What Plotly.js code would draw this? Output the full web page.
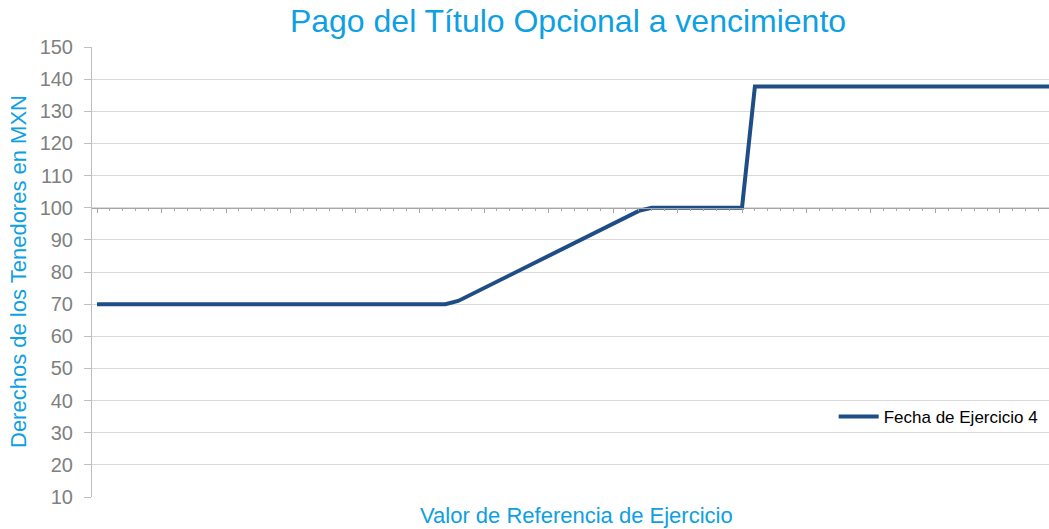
<!DOCTYPE html>
<html>
<head>
<meta charset="utf-8">
<script src="https://cdn.plot.ly/plotly-3.0.1.min.js"></script>
<style>html,body{margin:0;padding:0;background:#fff;}#chart{width:1049px;height:529px;}</style>
</head>
<body>
<div id="chart"></div>
<script>
// Data (x: reference value positions along the category axis, y: payoff in MXN)
const refPositions = [0, 27, 28, 42, 43, 50, 51, 74];
const payoffValues = [70, 70, 71, 99, 100, 100, 137.7, 137.7];
const seriesName = "Fecha de Ejercicio 4";
const yTicks = [10, 20, 30, 40, 50, 60, 70, 80, 90, 100, 110, 120, 130, 140, 150];

const blue = "#0EA0E2";
const trace = {
  x: refPositions,
  y: payoffValues,
  type: "scatter",
  mode: "lines",
  name: seriesName,
  line: {color: "#1F4E86", width: 4},
  showlegend: true
};

const yMin = 10, yMax = 150;
const crossFrac = (100 - yMin) / (yMax - yMin);

const layout = {
  width: 1049, height: 529,
  margin: {l: 92, r: 0, t: 47, b: 32},
  paper_bgcolor: "#fff", plot_bgcolor: "#fff",
  font: {family: "Liberation Sans, Arial, sans-serif"},
  title: {
    text: "Pago del Título Opcional a vencimiento",
    font: {size: 32, color: blue, family: "Liberation Sans, Arial, sans-serif"},
    x: 568 / 1049, xref: "container", xanchor: "center",
    y: 1 - 21 / 529, yref: "container", yanchor: "middle"
  },
  xaxis: {
    range: [-0.39, 73.8],
    anchor: "free", position: crossFrac,
    showgrid: false, zeroline: false,
    showline: true, linecolor: "#A6A6A6", linewidth: 1,
    ticks: "outside", ticklen: 4, tickcolor: "#A6A6A6",
    tick0: 0, dtick: 5,
    minor: {ticks: "outside", ticklen: 2, dtick: 1, tickcolor: "#A6A6A6"},
    showticklabels: false,
    fixedrange: true
  },
  yaxis: {
    range: [yMin, yMax],
    tickvals: yTicks,
    showgrid: true, gridcolor: "#D9D9D9", gridwidth: 1,
    zeroline: false,
    showline: true, linecolor: "#BFBFBF", linewidth: 1,
    ticks: "outside", ticklen: 7, tickcolor: "#BFBFBF",
    tickfont: {size: 20, color: "#808080", family: "Liberation Sans, Arial, sans-serif"},
    ticklabelstandoff: 7,
    fixedrange: true
  },
  legend: {
    x: 0.775, xanchor: "left",
    y: (497 - 417) / 450, yanchor: "middle",
    bgcolor: "rgba(255,255,255,0)",
    font: {size: 17, color: "#000", family: "Liberation Sans, Arial, sans-serif"},
    itemwidth: 40
  },
  annotations: [
    {
      text: "Derechos de los Tenedores en MXN",
      xref: "paper", yref: "paper",
      x: -74 / 957, y: 0.5, xanchor: "center", yanchor: "middle",
      textangle: -90, showarrow: false,
      font: {size: 22, color: blue, family: "Liberation Sans, Arial, sans-serif"}
    },
    {
      text: "Valor de Referencia de Ejercicio",
      xref: "paper", yref: "paper",
      x: (576 - 92) / 957, y: -(515 - 497) / 450, xanchor: "center", yanchor: "middle",
      showarrow: false,
      font: {size: 22, color: blue, family: "Liberation Sans, Arial, sans-serif"}
    }
  ]
};

Plotly.newPlot("chart", [trace], layout, {displayModeBar: false, staticPlot: true});
</script>
</body>
</html>
